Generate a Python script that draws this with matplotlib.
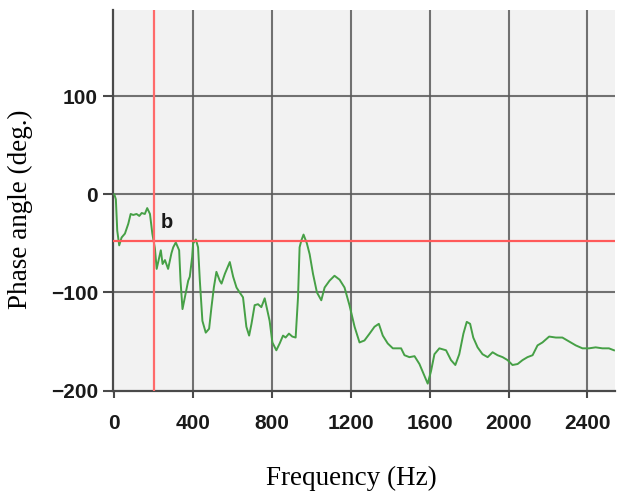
import matplotlib
matplotlib.use("Agg")
import matplotlib.pyplot as plt

# Measured phase response
freq_hz = [0, 8, 15, 25, 37, 54, 71, 83, 96, 113, 127, 139, 155, 167, 181, 193,
           206, 215, 228, 236, 245, 257, 273, 290, 299, 312, 329, 336, 346, 358,
           375, 383, 395, 400, 414, 425, 434, 447, 464, 481, 493, 505, 518, 535,
           544, 561, 586, 603, 620, 636, 653, 670, 684, 696, 712, 729, 746, 763,
           775, 788, 802, 822, 839, 856, 869, 886, 903, 920, 932, 940, 949, 960,
           977, 991, 1008, 1028, 1050, 1067, 1092, 1117, 1143, 1168, 1193, 1219,
           1244, 1269, 1295, 1320, 1342, 1362, 1387, 1413, 1455, 1472, 1497, 1523,
           1548, 1573, 1590, 1607, 1624, 1649, 1683, 1708, 1730, 1750, 1771, 1788,
           1805, 1821, 1843, 1868, 1894, 1919, 1944, 1970, 1995, 2020, 2046, 2071,
           2096, 2122, 2147, 2172, 2206, 2240, 2273, 2307, 2341, 2375, 2408, 2442,
           2476, 2509, 2535]
phase_deg = [0, -5, -37, -52, -44, -40, -30, -20, -21, -20, -22, -19, -20, -14, -20, -40,
             -55, -76, -64, -57, -71, -67, -76, -60, -54, -49, -57, -88, -117, -105,
             -88, -84, -64, -50, -46, -54, -88, -129, -141, -137, -115, -95, -79, -88,
             -91, -81, -69, -84, -95, -100, -105, -135, -144, -132, -113, -112, -115, -106,
             -117, -129, -151, -159, -152, -144, -146, -142, -145, -146, -105, -54, -47, -41,
             -50, -61, -81, -100, -108, -95, -88, -83, -87, -95, -113, -135,
             -151, -149, -142, -135, -132, -144, -152, -157, -157, -164, -166, -165,
             -173, -185, -193, -180, -163, -157, -159, -169, -174, -163, -142, -130,
             -132, -146, -156, -163, -166, -161, -164, -166, -169, -174, -173, -169,
             -166, -164, -154, -151, -145, -146, -146, -150, -154, -157, -157, -156,
             -157, -157, -159]

# Cursor position and marker
cursor_freq = 200
cursor_phase = -48
marker_label = "b"
marker_pos = (267, -29)

x_ticks = [0, 400, 800, 1200, 1600, 2000, 2400]
y_ticks = [-200, -100, 0, 100]

tick_font = ["Liberation Sans", "DejaVu Sans"]
label_font = ["Liberation Serif", "DejaVu Serif"]

fig = plt.figure(figsize=(6.18, 4.93), dpi=100)
ax = fig.add_axes([113.3 / 618, 102.5 / 493, (615 - 113.3) / 618, (390.5 - 10) / 493])
ax.set_facecolor("#f2f2f2")

ax.set_xlim(-5, 2540)
ax.set_ylim(-200, 188)

grid_color = "#5a5a5a"
for xv in x_ticks[1:]:
    ax.axvline(xv, color=grid_color, lw=1.5, alpha=0.85, zorder=1)
for yv in y_ticks[1:]:
    ax.axhline(yv, color=grid_color, lw=1.5, alpha=0.85, zorder=1)

ax.plot(freq_hz, phase_deg, color="#46a046", lw=1.4, zorder=3)

ax.axhline(cursor_phase, color="#ff5a5a", lw=1.6, zorder=4)
ax.axvline(cursor_freq, color="#ff6a6a", lw=1.6, zorder=4)

ax.text(marker_pos[0], marker_pos[1], marker_label, ha="center", va="center",
        fontsize=14.5, fontweight="bold", family=["Liberation Sans", "DejaVu Sans"],
        color="#1a1a1a", zorder=5)

for side in ["top", "right"]:
    ax.spines[side].set_visible(False)
for side in ["left", "bottom"]:
    ax.spines[side].set_color("#4a4a4a")
    ax.spines[side].set_linewidth(1.6)

ax.set_xticks(x_ticks)
ax.set_yticks(y_ticks)
ax.tick_params(axis="y", length=7, width=1.5, color="#4a4a4a", pad=4)
ax.tick_params(axis="x", length=5, width=1.5, color="#4a4a4a", pad=12)
for lab in ax.get_xticklabels() + ax.get_yticklabels():
    lab.set_family(tick_font)
    lab.set_fontweight("bold")
    lab.set_fontsize(15)
    lab.set_color("#1a1a1a")

fig.text(268 / 618 + (435 - 268) / 2 / 618, 1 - 478 / 493, "Frequency (Hz)",
         ha="center", va="center", fontsize=19.5, family=label_font)
fig.text(20 / 618, 1 - 209 / 493, "Phase angle (deg.)", rotation=90,
         ha="center", va="center", fontsize=19.5, family=label_font)

fig.savefig("out.png", dpi=100)
